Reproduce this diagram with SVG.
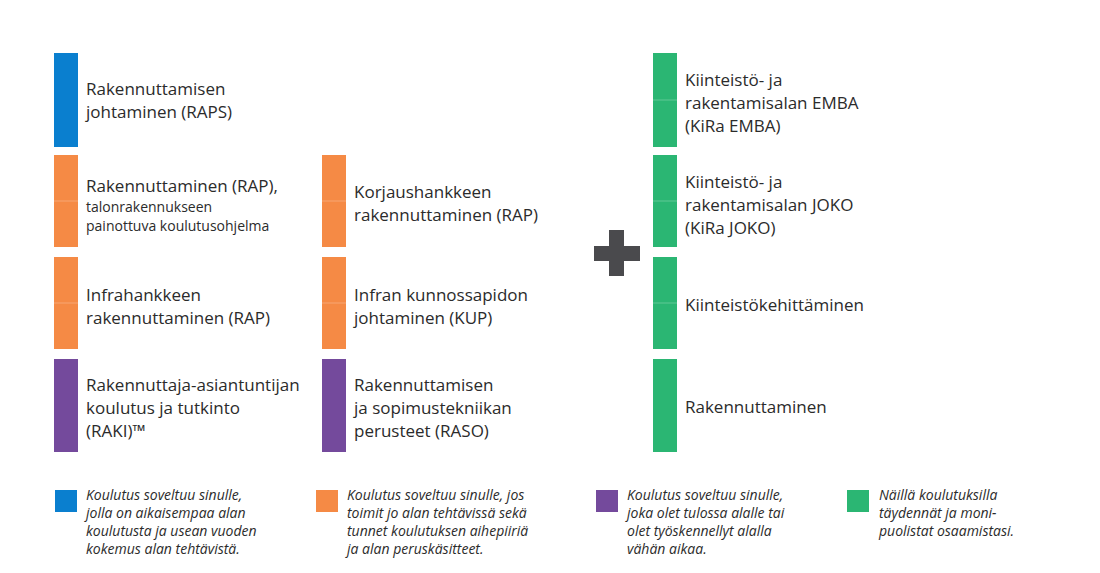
<svg xmlns="http://www.w3.org/2000/svg" width="1100" height="573" viewBox="0 0 1100 573">
<style>
text{font-family:"Open Sans","Noto Sans",sans-serif;fill:#2b2b2b}
.t{font-size:17px}
.s{font-size:14px}
.l{font-size:14px;font-style:italic}
.b{fill:#0a7fcf}.o{fill:#f58a45}.p{fill:#744a9c}.g{fill:#2bb673}
.m{stroke:#fff;stroke-opacity:.25;stroke-width:1}
</style>
<rect width="1100" height="573" fill="#fff"/>
<g id="raps"><rect class="b" x="54" y="53" width="24" height="94"/><text class="t" x="86" y="95">Rakennuttamisen</text><text class="t" x="86" y="118">johtaminen (RAPS)</text></g>
<g id="rap"><rect class="o" x="54" y="155" width="24" height="92"/><line class="m" x1="54" y1="201" x2="78" y2="201"/><text class="t" x="86" y="192">Rakennuttaminen (RAP),</text><text class="s" x="86" y="212">talonrakennukseen</text><text class="s" x="86" y="231">painottuva koulutusohjelma</text></g>
<g id="infrap"><rect class="o" x="54" y="257" width="24" height="92"/><line class="m" x1="54" y1="303" x2="78" y2="303"/><text class="t" x="86" y="301">Infrahankkeen</text><text class="t" x="86" y="324">rakennuttaminen (RAP)</text></g>
<g id="raki"><rect class="p" x="54" y="359" width="24" height="93"/><text class="t" x="86" y="391">Rakennuttaja-asiantuntijan</text><text class="t" x="86" y="414">koulutus ja tutkinto</text><text class="t" x="86" y="437">(RAKI)™</text></g>
<g id="korjaus"><rect class="o" x="322" y="155" width="24" height="92"/><line class="m" x1="322" y1="201" x2="346" y2="201"/><text class="t" x="354" y="198">Korjaushankkeen</text><text class="t" x="354" y="221">rakennuttaminen (RAP)</text></g>
<g id="kup"><rect class="o" x="322" y="257" width="24" height="92"/><line class="m" x1="322" y1="303" x2="346" y2="303"/><text class="t" x="354" y="301">Infran kunnossapidon</text><text class="t" x="354" y="324">johtaminen (KUP)</text></g>
<g id="raso"><rect class="p" x="322" y="359" width="24" height="93"/><text class="t" x="354" y="391">Rakennuttamisen</text><text class="t" x="354" y="414">ja sopimustekniikan</text><text class="t" x="354" y="437">perusteet (RASO)</text></g>
<g id="plus"><path d="M609 230h15v16h16v15h-16v15h-15v-15h-15v-15h15z" fill="#4a4a4d"/></g>
<g id="emba"><rect class="g" x="653" y="53" width="24" height="94"/><line class="m" x1="653" y1="100" x2="677" y2="100"/><text class="t" x="685" y="86">Kiinteistö- ja</text><text class="t" x="685" y="109">rakentamisalan EMBA</text><text class="t" x="685" y="132">(KiRa EMBA)</text></g>
<g id="joko"><rect class="g" x="653" y="155" width="24" height="92"/><line class="m" x1="653" y1="201" x2="677" y2="201"/><text class="t" x="685" y="188">Kiinteistö- ja</text><text class="t" x="685" y="211">rakentamisalan JOKO</text><text class="t" x="685" y="234">(KiRa JOKO)</text></g>
<g id="kehitt"><rect class="g" x="653" y="257" width="24" height="92"/><line class="m" x1="653" y1="303" x2="677" y2="303"/><text class="t" x="685" y="311">Kiinteistökehittäminen</text></g>
<g id="rakennuttaminen"><rect class="g" x="653" y="359" width="24" height="93"/><text class="t" x="685" y="413">Rakennuttaminen</text></g>
<g id="legend">
<rect class="b" x="55" y="490" width="22" height="22"/><text class="l" x="86" y="500">Koulutus soveltuu sinulle,</text><text class="l" x="86" y="518">jolla on aikaisempaa alan</text><text class="l" x="86" y="536">koulutusta ja usean vuoden</text><text class="l" x="86" y="554">kokemus alan tehtävistä.</text>
<rect class="o" x="316" y="490" width="22" height="22"/><text class="l" x="347" y="500">Koulutus soveltuu sinulle, jos</text><text class="l" x="347" y="518">toimit jo alan tehtävissä sekä</text><text class="l" x="347" y="536">tunnet koulutuksen aihepiiriä</text><text class="l" x="347" y="554">ja alan peruskäsitteet.</text>
<rect class="p" x="596" y="490" width="22" height="22"/><text class="l" x="627" y="500">Koulutus soveltuu sinulle,</text><text class="l" x="627" y="518">joka olet tulossa alalle tai</text><text class="l" x="627" y="536">olet työskennellyt alalla</text><text class="l" x="627" y="554">vähän aikaa.</text>
<rect class="g" x="847" y="490" width="22" height="22"/><text class="l" x="879" y="500">Näillä koulutuksilla</text><text class="l" x="879" y="518">täydennät ja moni-</text><text class="l" x="879" y="536">puolistat osaamistasi.</text>
</g>
</svg>
